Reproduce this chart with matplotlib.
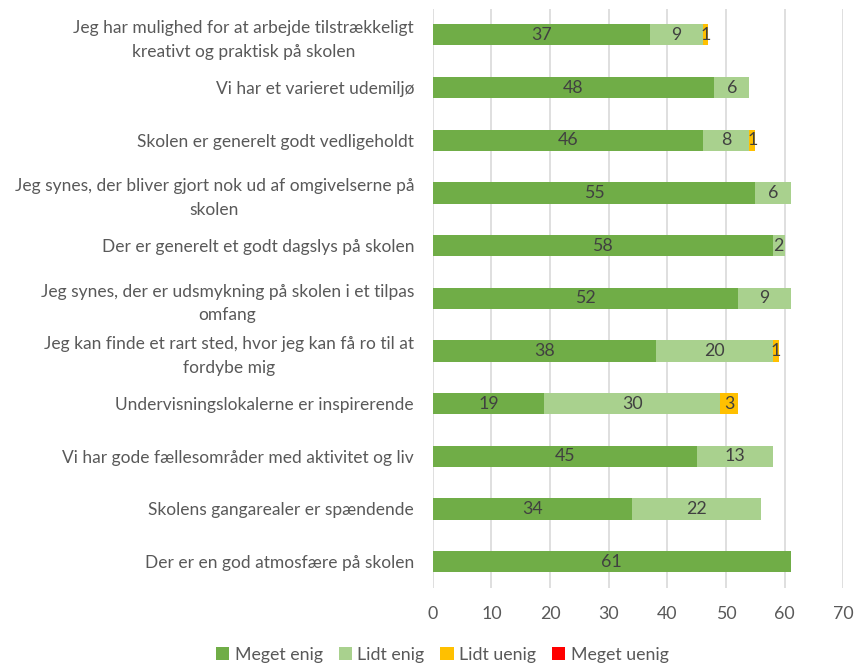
import matplotlib
matplotlib.use("Agg")
import matplotlib.pyplot as plt
import numpy as np

categories = [
    "Jeg har mulighed for at arbejde tilstrækkeligt\nkreativt og praktisk på skolen",
    "Vi har et varieret udemiljø",
    "Skolen er generelt godt vedligeholdt",
    "Jeg synes, der bliver gjort nok ud af omgivelserne på\nskolen",
    "Der er generelt et godt dagslys på skolen",
    "Jeg synes, der er udsmykning på skolen i et tilpas\nomfang",
    "Jeg kan finde et rart sted, hvor jeg kan få ro til at\nfordybe mig",
    "Undervisningslokalerne er inspirerende",
    "Vi har gode fællesområder med aktivitet og liv",
    "Skolens gangarealer er spændende",
    "Der er en god atmosfære på skolen",
]
meget_enig = [37, 48, 46, 55, 58, 52, 38, 19, 45, 34, 61]
lidt_enig = [9, 6, 8, 6, 2, 9, 20, 30, 13, 22, 0]
lidt_uenig = [1, 0, 1, 0, 0, 0, 1, 3, 0, 0, 0]
meget_uenig = [0, 0, 0, 0, 0, 0, 0, 0, 0, 0, 0]
series_names = ["Meget enig", "Lidt enig", "Lidt uenig", "Meget uenig"]
colors = ["#70AD47", "#A9D18E", "#FFC000", "#FF0000"]
xticks = [0, 10, 20, 30, 40, 50, 60, 70]

plt.rcParams['font.family'] = ['Lato', 'DejaVu Sans']

fig = plt.figure(figsize=(8.57, 6.64), dpi=100)
ax = fig.add_axes([0.505, 0.1145, 0.479, 0.8725])

FS = 12.5
y = np.arange(len(categories))
left = np.zeros(len(categories))
handles = []
for name, vals, col in zip(series_names, [meget_enig, lidt_enig, lidt_uenig, meget_uenig], colors):
    vals = np.array(vals, dtype=float)
    bars = ax.barh(y, vals, left=left, height=0.4, color=col, label=name, zorder=3)
    handles.append(bars)
    for yi, (l, v) in enumerate(zip(left, vals)):
        if v > 0:
            ax.text(l + v / 2, yi, f"{int(v)}", ha='center', va='center',
                    fontsize=12.8, color='#404040', zorder=4)
    left += vals

ax.set_ylim(len(categories) - 0.5, -0.5)
ax.set_xlim(0, 70)
ax.set_xticks(xticks)
ax.set_yticks(y)
ax.set_yticklabels(categories, multialignment='center', linespacing=1.55)
ax.tick_params(axis='both', length=0, labelsize=FS, labelcolor='#595959')
ax.tick_params(axis='x', pad=13, labelsize=12.8)
ax.tick_params(axis='y', pad=13.5)
for s in ax.spines.values():
    s.set_visible(False)
ax.grid(axis='x', color='#D9D9D9', linewidth=1.2, zorder=0)
ax.set_axisbelow(True)

fig.legend(handles=handles, labels=series_names, loc='lower center',
           bbox_to_anchor=(0.516, -0.022), ncol=4, frameon=False,
           fontsize=12.8, handlelength=0.75, handleheight=0.75,
           handletextpad=0.3, columnspacing=0.9, labelcolor='#595959')

fig.savefig("out.png", dpi=100)
